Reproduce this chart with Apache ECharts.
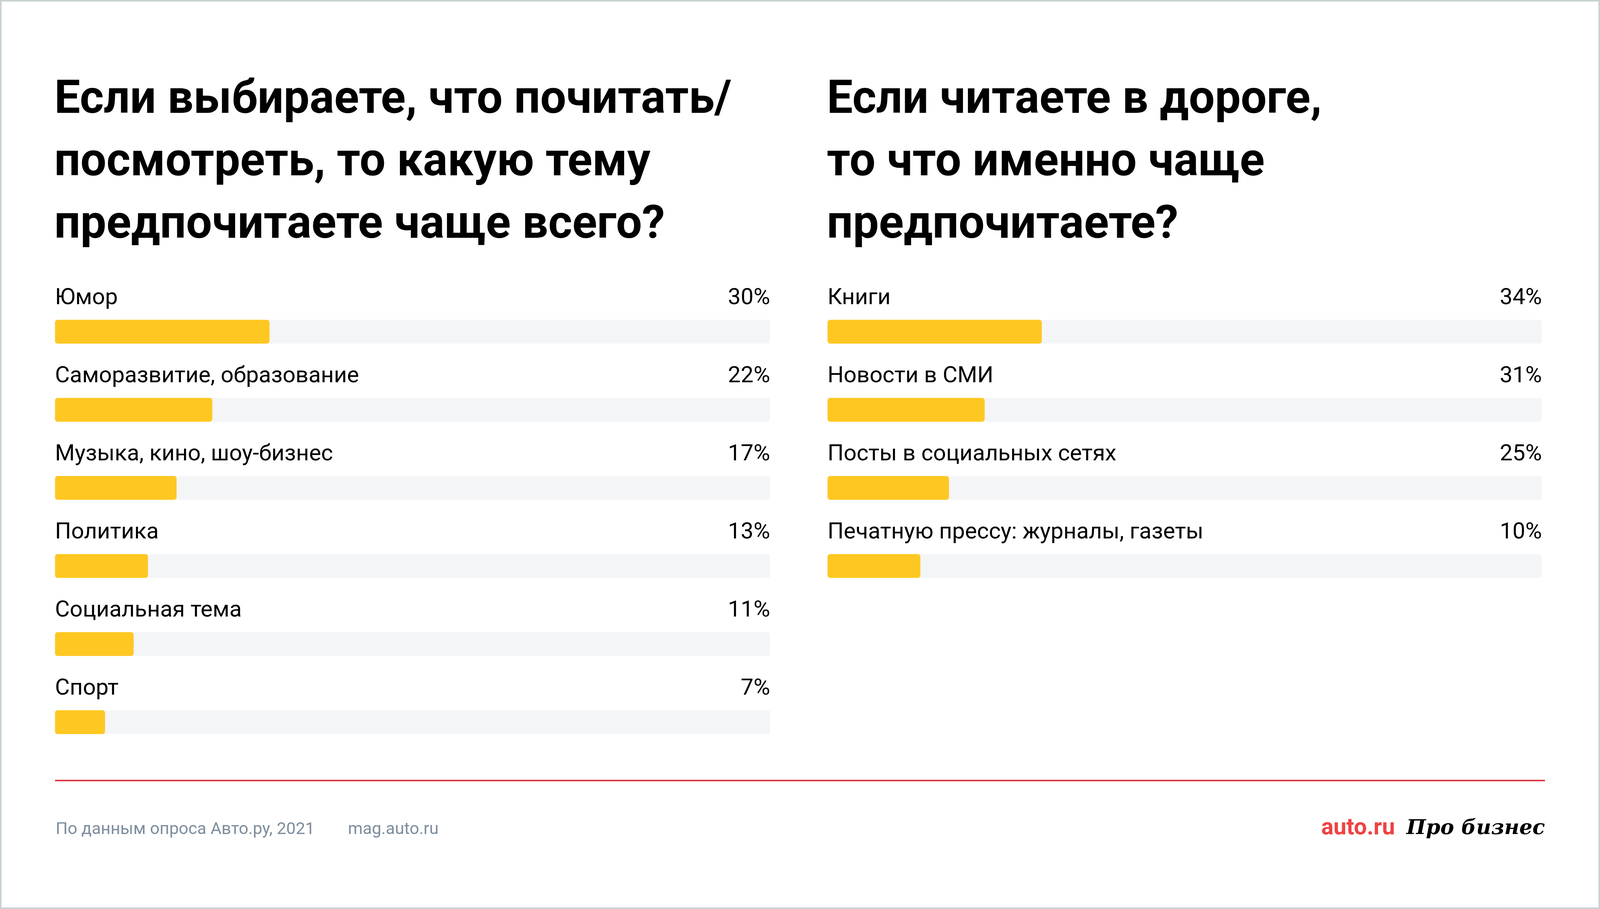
<!DOCTYPE html>
<html>
<head>
<meta charset="utf-8">
<script src="https://cdn.jsdelivr.net/npm/echarts@6/dist/echarts.min.js"></script>
<style>
  html, body { margin: 0; padding: 0; background: #fff; overflow: hidden; }
  #chart { width: 100vw; height: 100vh; }
</style>
</head>
<body>
<div id="chart"></div>
<script>
// левый блок: темы
const leftCategories = ['Юмор', 'Саморазвитие, образование', 'Музыка, кино, шоу-бизнес', 'Политика', 'Социальная тема', 'Спорт'];
const leftValues = [30, 22, 17, 13, 11, 7];

// правый блок: что читают в дороге
const rightCategories = ['Книги', 'Новости в СМИ', 'Посты в социальных сетях', 'Печатную прессу: журналы, газеты'];
const rightValues = [34, 31, 25, 10];      // подписи
const rightBarLengths = [30, 22, 17, 13];  // длины полос, как нарисовано на картинке

const leftTitle = 'Если выбираете, что почитать/\nпосмотреть, то какую тему\nпредпочитаете чаще всего?';
const rightTitle = 'Если читаете в дороге,\nто что именно чаще\nпредпочитаете?';

const YELLOW = '#ffc722';
const TRACK = '#f4f5f7';
const FONT = 'Roboto';

const chart = echarts.init(document.getElementById('chart'));
const W = chart.getWidth();
const H = chart.getHeight();
// макет рассчитан на 4654x2328, масштабируем под реальный размер
const kx = W / 4654;
const ky = H / 2328;
const kf = Math.min(kx, ky);
const sx = (v) => v * kx;
const sy = (v) => v * ky;
const sf = (v) => v * kf;

const titleStyle = { fontFamily: FONT, fontWeight: 700, fontSize: sf(134), lineHeight: sy(160), color: '#000' };
const labelFont = { fontFamily: FONT, fontSize: sf(66), color: '#000' };

const TRACK_W = [2080, 2078];

function valueAxis(gridIndex) {
  return { gridIndex, type: 'value', min: 0, max: 100, show: false };
}

function nameAxis(gridIndex, cats) {
  return { gridIndex, type: 'category', data: cats, inverse: true, show: false };
}

function barSeries(idx, data, labels) {
  return {
    type: 'bar', xAxisIndex: idx, yAxisIndex: idx,
    data,
    barWidth: sy(61),
    showBackground: true,
    backgroundStyle: { color: TRACK, borderRadius: sf(8) },
    itemStyle: { color: YELLOW, borderRadius: sf(8) },
    label: {
      show: true,
      position: [0, -sy(55)],
      align: 'left',
      verticalAlign: 'middle',
      width: sx(TRACK_W[idx]),
      formatter: (p) => `{n|${p.name}}{v|${labels[p.dataIndex]}%}`,
      rich: {
        n: { ...labelFont },
        v: { ...labelFont, align: 'right' }
      }
    },
    silent: true
  };
}

chart.setOption({
  backgroundColor: '#fff',
  animation: false,
  title: [
    { left: sx(158), top: sy(180), padding: 0, text: leftTitle, textStyle: titleStyle },
    { left: sx(2405), top: sy(180), padding: 0, text: rightTitle, textStyle: titleStyle }
  ],
  grid: [
    { left: sx(160), top: sy(749.5), width: sx(TRACK_W[0]), height: sy(1200) },
    { left: sx(2407), top: sy(749.5), width: sx(TRACK_W[1]), height: sy(800) }
  ],
  xAxis: [valueAxis(0), valueAxis(1)],
  yAxis: [nameAxis(0, leftCategories), nameAxis(1, rightCategories)],
  series: [
    barSeries(0, leftValues, leftValues),
    barSeries(1, rightBarLengths, rightValues)
  ],
  graphic: [
    {
      type: 'rect', silent: true,
      shape: { x: 2, y: 2, width: W - 4, height: H - 4 },
      style: { fill: 'none', stroke: '#c8d3d2', lineWidth: 4 }
    },
    {
      type: 'line', silent: true,
      shape: { x1: sx(160), y1: sy(1999), x2: sx(4494), y2: sy(1999) },
      style: { stroke: '#dc3c45', lineWidth: 4 }
    },
    {
      type: 'text', silent: true, x: sx(162), y: sy(2125),
      style: { text: 'По данным опроса Авто.ру, 2021', fill: '#7d8d9d', fontFamily: FONT, fontSize: sf(49), verticalAlign: 'middle' }
    },
    {
      type: 'text', silent: true, x: sx(1012), y: sy(2125),
      style: { text: 'mag.auto.ru', fill: '#7d8d9d', fontFamily: FONT, fontSize: sf(49), verticalAlign: 'middle' }
    },
    {
      type: 'text', silent: true, x: sx(3843), y: sy(2122),
      style: { text: 'auto.ru', fill: '#ef4343', fontFamily: FONT, fontWeight: 700, fontSize: sf(67), verticalAlign: 'middle' }
    },
    {
      type: 'text', silent: true, x: sx(4494), y: sy(2122),
      style: { text: 'Про бизнес', fill: '#000', fontFamily: 'DejaVu Serif', fontStyle: 'italic', fontWeight: 700, fontSize: sf(60), align: 'right', verticalAlign: 'middle' }
    }
  ]
});

window.addEventListener('resize', () => chart.resize());
</script>
</body>
</html>
